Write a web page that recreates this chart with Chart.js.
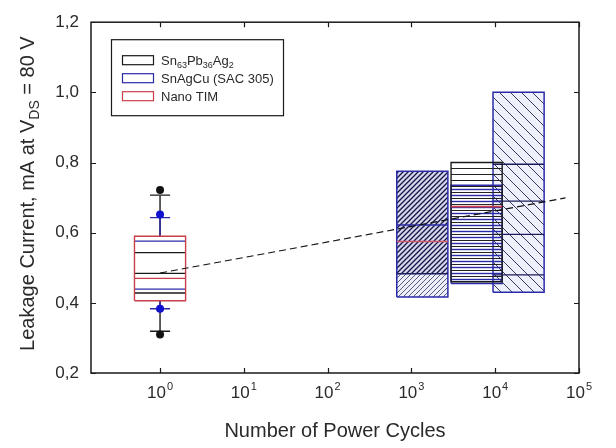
<!DOCTYPE html>
<html><head><meta charset="utf-8">
<script src="https://cdn.jsdelivr.net/npm/chart.js@4"></script>
<style>html,body{margin:0;padding:0;background:#fff;}#wrap{width:616px;height:448px;}</style>
</head><body><div id="wrap"><canvas id="c" width="616" height="448"></canvas></div>
<script>
// ================= DATA =================
const seriesNames = ['Sn63Pb36Ag2', 'SnAgCu (SAC 305)', 'Nano TIM'];
const yTickValues = [0.2, 0.4, 0.6, 0.8, 1.0, 1.2];
const xTickExponents = [0, 1, 2, 3, 4, 5];
const xTitle = 'Number of Power Cycles';
const yTitleParts = [['Leakage Current, mA at V', 0], ['DS', 1], [' = 80 V', 0]];

// Box plots at 1 power cycle, order: [Sn63Pb36Ag2, SAC 305, Nano TIM]
const g1Cycles = 1;
const g1Q1          = [0.428, 0.439, 0.406];
const g1Median      = [0.484, null,  0.470];
const g1Q3          = [0.543, 0.576, 0.590];
const g1WhiskerLow  = [0.319, 0.383, null];
const g1WhiskerHigh = [0.707, 0.643, null];
const g1OutlierLow  = [0.310, 0.383, null];
const g1OutlierHigh = [0.722, 0.652, null];

// SAC 305 box at ~1350 cycles
const sacACycles = 1350;
const sacARange = [0.417, 0.775];
const sacADenseRange = [0.483, 0.775];
const sacALines = [0.483, 0.622];
const sacARedLine = 0.575;

// Sn63Pb36Ag2 box at ~6000 cycles
const snpbCycles = 6000;
const snpbRange = [0.46, 0.80];
const snpbBlueRange = [0.455, 0.735];
const snpbRedLine = 0.674;

// SAC 305 box at ~19000 cycles
const sacBCycles = 19000;
const sacBRange = [0.43, 1.00];
const sacBLines = [0.795, 0.69, 0.595, 0.48];

// Trend line
const trendCycles = [1, 69000];
const trendValues = [0.485, 0.699];

// ================= STYLE =================
const BOX_HALF = 0.305;   // half box width in decades
const CAP_HALF = 0.12;    // half whisker-cap width in decades
const C_BLACK = '#1a1a1a', C_BLUE = '#2b2ba8', C_RED = '#c8404a', C_NAVY = '#1c1c5c', C_PINK = '#d05a6a';
const FONT = '"Liberation Sans", Arial, sans-serif';
const seriesColors = [C_BLACK, C_BLUE, C_RED];

const canvas = document.getElementById('c');
const mainCtx = canvas.getContext('2d');

function makePattern(w, h, bg, color, lw, drawFn) {
  const cv = document.createElement('canvas');
  cv.width = w; cv.height = h;
  const g = cv.getContext('2d');
  if (bg) { g.fillStyle = bg; g.fillRect(0, 0, w, h); }
  g.strokeStyle = color; g.lineWidth = lw;
  g.beginPath(); drawFn(g, w, h); g.stroke();
  return mainCtx.createPattern(cv, 'repeat');
}
const fwd = (g, s) => { g.moveTo(0, s); g.lineTo(s, 0); g.moveTo(-1, 1); g.lineTo(1, -1); g.moveTo(s - 1, s + 1); g.lineTo(s + 1, s - 1); };
const back = (g, s) => { g.moveTo(0, 0); g.lineTo(s, s); g.moveTo(-1, s - 1); g.lineTo(1, s + 1); g.moveTo(s - 1, -1); g.lineTo(s + 1, 1); };
const horiz = off => (g, w) => { g.moveTo(0, off + 0.5); g.lineTo(w, off + 0.5); };

const patSacALight = makePattern(5, 5, '#eceef8', '#5a5a88', 1, (g, w) => fwd(g, w));
const patSacADark  = makePattern(5, 5, '#d6d7ea', '#15154a', 1.3, (g, w) => fwd(g, w));
const patSacB      = makePattern(11, 11, '#eef0fc', '#3a3a60', 1, (g, w) => back(g, w));
const patSnpbBlack = makePattern(6, 6, null, '#222', 1, horiz(0));
const patSnpbBlue  = makePattern(6, 6, null, C_BLUE, 1.4, horiz(3));

// ================= DATASETS =================
const datasets = [];
const lo = (c, h) => c / Math.pow(10, h);
const hi = (c, h) => c * Math.pow(10, h);
function add(ds) {
  datasets.push(Object.assign({ showLine: true, pointRadius: 0, pointHoverRadius: 0, borderWidth: 1, fill: false, tension: 0, borderJoinStyle: 'miter' }, ds));
}
function box(c, yl, yh, opts) {
  add(Object.assign({ data: [
    { x: lo(c, BOX_HALF), y: yl }, { x: hi(c, BOX_HALF), y: yl },
    { x: hi(c, BOX_HALF), y: yh }, { x: lo(c, BOX_HALF), y: yh }, { x: lo(c, BOX_HALF), y: yl }] }, opts));
}
function hline(c, v, half, color, w) { add({ data: [{ x: lo(c, half), y: v }, { x: hi(c, half), y: v }], borderColor: color, borderWidth: w || 1.3 }); }
function vline(c, v1, v2, color, w) { add({ data: [{ x: c, y: v1 }, { x: c, y: v2 }], borderColor: color, borderWidth: w || 1.4 }); }

// ---- group at 1 cycle ----
const g1Top = Math.max(...g1Q3), g1Bot = Math.min(...g1Q1);
[0, 1].forEach(i => {
  if (g1WhiskerHigh[i] != null) { vline(g1Cycles, g1Top, g1WhiskerHigh[i], seriesColors[i]); hline(g1Cycles, g1WhiskerHigh[i], CAP_HALF, seriesColors[i], 1.4); }
  if (g1WhiskerLow[i] != null)  { vline(g1Cycles, g1Bot, g1WhiskerLow[i], seriesColors[i]);  hline(g1Cycles, g1WhiskerLow[i], CAP_HALF, seriesColors[i], 1.4); }
});
[0, 1, 2].forEach(i => {
  if (i === 2) box(g1Cycles, g1Q1[i], g1Q3[i], { borderColor: seriesColors[i], borderWidth: 1.4 });
  else { hline(g1Cycles, g1Q1[i], BOX_HALF, seriesColors[i]); hline(g1Cycles, g1Q3[i], BOX_HALF, seriesColors[i]); }
  if (g1Median[i] != null) hline(g1Cycles, g1Median[i], BOX_HALF, seriesColors[i]);
});
[0, 1].forEach(i => {
  add({ showLine: false, data: [{ x: g1Cycles, y: g1OutlierLow[i] }, { x: g1Cycles, y: g1OutlierHigh[i] }],
        pointRadius: 4, backgroundColor: i === 0 ? '#111' : '#1010d0', borderWidth: 0 });
});

// ---- SAC 305 at ~1350 ----
box(sacACycles, sacARange[0], sacADenseRange[0], { fill: 'shape', backgroundColor: patSacALight, borderWidth: 0, borderColor: 'rgba(0,0,0,0)' });
box(sacACycles, sacADenseRange[0], sacADenseRange[1], { fill: 'shape', backgroundColor: patSacADark, borderWidth: 0, borderColor: 'rgba(0,0,0,0)' });
box(sacACycles, sacARange[0], sacARange[1], { borderColor: C_BLUE, borderWidth: 1.5 });
hline(sacACycles, sacALines[0], BOX_HALF, C_NAVY, 1.5);
hline(sacACycles, sacALines[1], BOX_HALF, C_BLUE, 1.6);
hline(sacACycles, sacARedLine, BOX_HALF, C_PINK, 1.6);

// ---- SAC 305 at ~19000 ----
box(sacBCycles, sacBRange[0], sacBRange[1], { fill: 'shape', backgroundColor: patSacB, borderColor: C_BLUE, borderWidth: 1.5 });
sacBLines.forEach(v => hline(sacBCycles, v, BOX_HALF, C_NAVY, 1.3));

// ---- Sn63Pb36Ag2 at ~6000 ----
box(snpbCycles, snpbRange[0], snpbRange[1], { fill: 'shape', backgroundColor: patSnpbBlack, borderWidth: 0, borderColor: 'rgba(0,0,0,0)' });
box(snpbCycles, snpbBlueRange[0], snpbBlueRange[1], { fill: 'shape', backgroundColor: patSnpbBlue, borderColor: C_BLUE, borderWidth: 1.4 });
box(snpbCycles, snpbRange[0], snpbRange[1], { borderColor: C_BLACK, borderWidth: 1.4 });
hline(snpbCycles, snpbRedLine, BOX_HALF, C_RED, 1.8);

// ---- trend ----
add({ data: trendCycles.map((c, i) => ({ x: c, y: trendValues[i] })), borderColor: '#111', borderWidth: 1.2, borderDash: [7, 4] });

const N = datasets.length;
datasets.forEach((d, i) => { d.order = N - i; });

// ================= DECORATIONS =================
function drawSubText(ctx, parts, x, y, size, subSize, subDrop) {
  let cx = x;
  parts.forEach(([t, sub]) => {
    ctx.font = (sub ? subSize : size) + 'px ' + FONT;
    ctx.fillText(t, cx, y + (sub ? subDrop : 0));
    cx += ctx.measureText(t).width;
  });
  return cx - x;
}
function measureSub(ctx, parts, size, subSize) {
  let w = 0;
  parts.forEach(([t, sub]) => { ctx.font = (sub ? subSize : size) + 'px ' + FONT; w += ctx.measureText(t).width; });
  return w;
}
function splitSubs(name) {
  const parts = []; const re = /([A-Za-z)])(\d+)/g; let last = 0, m;
  while ((m = re.exec(name))) {
    parts.push([name.slice(last, m.index + 1), 0]);
    parts.push([m[2], 1]);
    last = m.index + m[0].length;
  }
  parts.push([name.slice(last), 0]);
  return parts.filter(p => p[0].length);
}

const decor = {
  id: 'decor',
  afterDraw(chart) {
    const { ctx, chartArea: a, scales: { x, y } } = chart;
    ctx.save();
    // frame
    ctx.strokeStyle = '#1a1a1a'; ctx.lineWidth = 1.5;
    ctx.strokeRect(a.left, a.top, a.right - a.left, a.bottom - a.top);
    // inward ticks
    ctx.lineWidth = 1.2;
    ctx.beginPath();
    xTickExponents.forEach(e => {
      const px = Math.round(x.getPixelForValue(Math.pow(10, e))) + 0.5;
      ctx.moveTo(px, a.bottom); ctx.lineTo(px, a.bottom - 5);
      ctx.moveTo(px, a.top); ctx.lineTo(px, a.top + 5);
    });
    yTickValues.forEach(v => {
      const py = Math.round(y.getPixelForValue(v)) + 0.5;
      ctx.moveTo(a.left, py); ctx.lineTo(a.left + 5, py);
      ctx.moveTo(a.right, py); ctx.lineTo(a.right - 5, py);
    });
    ctx.stroke();
    // x tick labels with superscripts
    ctx.fillStyle = '#2a2a2a'; ctx.textAlign = 'left'; ctx.textBaseline = 'alphabetic';
    xTickExponents.forEach(e => {
      const px = x.getPixelForValue(Math.pow(10, e));
      ctx.font = '17px ' + FONT; const w1 = ctx.measureText('10').width;
      ctx.font = '11px ' + FONT; const w2 = ctx.measureText(String(e)).width;
      const sx = px - (w1 + w2 + 1) / 2;
      ctx.font = '17px ' + FONT; ctx.fillText('10', sx, a.bottom + 25);
      ctx.font = '11px ' + FONT; ctx.fillText(String(e), sx + w1 + 1, a.bottom + 17);
    });
    // x title
    ctx.font = '20px ' + FONT; ctx.textAlign = 'center';
    ctx.fillText(xTitle, (a.left + a.right) / 2, a.bottom + 64);
    // y title (rotated, with subscript)
    ctx.save();
    ctx.translate(34, (a.top + a.bottom) / 2 - 4);
    ctx.rotate(-Math.PI / 2);
    ctx.textAlign = 'left';
    const tw = measureSub(ctx, yTitleParts, 20, 14);
    drawSubText(ctx, yTitleParts, -tw / 2, 0, 20, 14, 5);
    ctx.restore();
    // legend
    const lx = a.left + 20, ly = a.top + 17, lw = 172, lh = 76;
    ctx.fillStyle = '#fff'; ctx.fillRect(lx, ly, lw, lh);
    ctx.strokeStyle = '#1a1a1a'; ctx.lineWidth = 1.2;
    ctx.strokeRect(lx + 0.5, ly + 0.5, lw, lh);
    seriesNames.forEach((name, i) => {
      const cy = ly + 21 + i * 18;
      ctx.strokeStyle = seriesColors[i]; ctx.lineWidth = 1.2;
      ctx.strokeRect(lx + 11.5, cy - 4.5, 31, 9);
      ctx.fillStyle = '#2a2a2a'; ctx.textAlign = 'left';
      drawSubText(ctx, splitSubs(name), lx + 50, cy + 5, 13, 9, 3);
    });
    ctx.restore();
  }
};

new Chart(canvas, {
  type: 'scatter',
  data: { datasets },
  options: {
    responsive: false, animation: false, events: [],
    layout: { padding: { top: 17, right: 37, left: 0, bottom: 0 } },
    plugins: { legend: { display: false }, tooltip: { enabled: false } },
    scales: {
      x: {
        type: 'logarithmic', min: 0.15, max: 1e5,
        grid: { display: false, drawTicks: false }, border: { display: false },
        ticks: { display: false },
        afterBuildTicks: s => { s.ticks = xTickExponents.map(e => ({ value: Math.pow(10, e) })); },
        afterFit: s => { s.height = 75; }
      },
      y: {
        min: 0.2, max: 1.2,
        grid: { display: false, drawTicks: false }, border: { display: false },
        afterBuildTicks: s => { s.ticks = yTickValues.map(v => ({ value: v })); },
        ticks: { padding: 12, color: '#2a2a2a', font: { family: FONT, size: 17 },
                 callback: v => Number(v).toFixed(1).replace('.', ',') },
        afterFit: s => { s.width = 91; }
      }
    }
  },
  plugins: [decor]
});
</script>
</body></html>
